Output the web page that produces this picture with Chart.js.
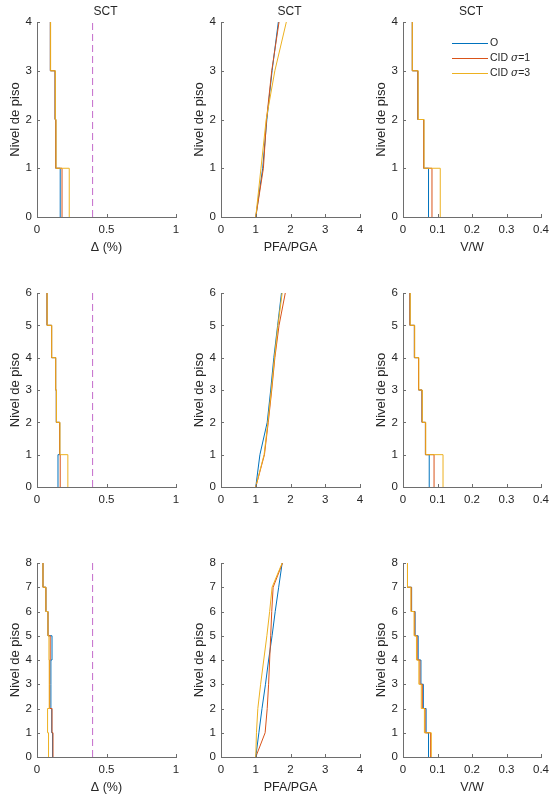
<!DOCTYPE html>
<html>
<head>
<meta charset="utf-8">
<title>SCT - perfiles de respuesta</title>
<script src="https://cdn.jsdelivr.net/npm/chart.js@4.4.1/dist/chart.umd.min.js"></script>
<style>
    html, body { margin: 0; padding: 0; background: #fff; }
    body { width: 557px; height: 800px; position: relative; overflow: hidden; }
    .panel { position: absolute; }
</style>
</head>
<body>
<script>
// Series names and colours (MATLAB defaults)
const seriesLabels = ['O', 'CID σ=1', 'CID σ=3'];
const seriesColors = ['#0072BD', '#D95319', '#EDB120'];

// Drift limit (%)
const limitDrift = 0.4;

// Tick labels per column
const driftTicks = [0, 0.5, 1];
const pfaTicks = [0, 1, 2, 3, 4];
const shearTicks = [0, 0.1, 0.2, 0.3, 0.4];

// 4 pisos - story values from story 1 (bottom) upwards
const drift4O = [0.167, 0.135, 0.130, 0.096];
const drift4C1 = [0.180, 0.135, 0.130, 0.096];
const drift4C3 = [0.232, 0.137, 0.132, 0.098];
const pfa4O = [1, 1.20, 1.32, 1.47, 1.65];
const pfa4C1 = [1, 1.22, 1.31, 1.46, 1.67];
const pfa4C3 = [1, 1.15, 1.30, 1.55, 1.88];
const shear4O = [0.074, 0.060, 0.043, 0.027];
const shear4C1 = [0.084, 0.060, 0.043, 0.027];
const shear4C3 = [0.108, 0.061, 0.044, 0.027];

// 6 pisos
const drift6O = [0.151, 0.163, 0.139, 0.134, 0.105, 0.072];
const drift6C1 = [0.167, 0.163, 0.139, 0.134, 0.105, 0.072];
const drift6C3 = [0.222, 0.165, 0.140, 0.135, 0.106, 0.073];
const pfa6O = [1, 1.12, 1.33, 1.43, 1.52, 1.63, 1.74];
const pfa6C1 = [1, 1.25, 1.36, 1.46, 1.55, 1.67, 1.85];
const pfa6C3 = [1, 1.24, 1.35, 1.45, 1.54, 1.64, 1.76];
const shear6O = [0.076, 0.065, 0.055, 0.045, 0.033, 0.020];
const shear6C1 = [0.090, 0.065, 0.055, 0.045, 0.033, 0.020];
const shear6C3 = [0.116, 0.066, 0.056, 0.046, 0.034, 0.021];

// 8 pisos
const drift8O = [0.112, 0.106, 0.100, 0.100, 0.108, 0.079, 0.064, 0.043];
const drift8C1 = [0.115, 0.108, 0.091, 0.091, 0.095, 0.079, 0.064, 0.043];
const drift8C3 = [0.083, 0.076, 0.088, 0.088, 0.086, 0.079, 0.064, 0.043];
const pfa8O = [1, 1.09, 1.18, 1.28, 1.37, 1.47, 1.56, 1.66, 1.76];
const pfa8C1 = [1, 1.27, 1.33, 1.37, 1.40, 1.43, 1.46, 1.50, 1.77];
const pfa8C3 = [1, 1.02, 1.06, 1.14, 1.23, 1.32, 1.40, 1.47, 1.76];
const shear8O = [0.074, 0.067, 0.059, 0.052, 0.044, 0.035, 0.025, 0.013];
const shear8C1 = [0.080, 0.064, 0.056, 0.049, 0.041, 0.034, 0.024, 0.013];
const shear8C3 = [0.082, 0.062, 0.053, 0.046, 0.039, 0.032, 0.023, 0.013];

const TEXT = '#262626';
const AXIS = '#6e6e6e';
Chart.defaults.font.family = '"Liberation Sans", Arial, sans-serif';
Chart.defaults.color = TEXT;

// Plot area placement (px)
const colLeft = [37, 221, 403];
const colWidth = [139, 139, 140];
const rowTop = [22, 293, 563];
const rowHeight = [195, 194, 194];
const rowBottom = [40, 24, 40];   // room under the axis: ticks (+ title)
const AXIS_W = 37;
const PAD_TOP = 22;
const PAD_RIGHT = 12;

// Story value per floor -> step line points, top to bottom
function stepPoints(values) {
    const pts = [];
    for (let i = values.length - 1; i >= 0; i--) {
        pts.push({ x: values[i], y: i + 1 });
    }
    pts.push({ x: values[0], y: 0 });
    return pts;
}

// Floor value -> profile points
function profilePoints(values) {
    return values.map((v, i) => ({ x: v, y: i }));
}

// MATLAB-style tick text: 0, 0.5, 1
function tickText(value) {
    return String(+value.toFixed(3));
}

// Inward tick marks like MATLAB
const inwardTicks = {
    id: 'inwardTicks',
    afterDraw(chart) {
        const { ctx, chartArea } = chart;
        const xs = chart.scales.x;
        const ys = chart.scales.y;
        ctx.save();
        ctx.strokeStyle = AXIS;
        ctx.lineWidth = 1;
        ctx.beginPath();
        xs.ticks.forEach(t => {
            const px = Math.round(xs.getPixelForValue(t.value)) + 0.5;
            ctx.moveTo(px, chartArea.bottom);
            ctx.lineTo(px, chartArea.bottom - 3);
        });
        ys.ticks.forEach(t => {
            const py = Math.round(ys.getPixelForValue(t.value)) + 0.5;
            ctx.moveTo(chartArea.left, py);
            ctx.lineTo(chartArea.left + 3, py);
        });
        ctx.stroke();
        ctx.restore();
    }
};

// "SCT" over the top row
const panelTitle = {
    id: 'panelTitle',
    afterDraw(chart, args, opts) {
        if (!opts.text) return;
        const { ctx, chartArea } = chart;
        ctx.save();
        ctx.fillStyle = TEXT;
        ctx.font = '12px "Liberation Sans", Arial, sans-serif';
        ctx.textAlign = 'center';
        ctx.textBaseline = 'middle';
        ctx.fillText(opts.text, (chartArea.left + chartArea.right) / 2 - 1, chartArea.top - 10);
        ctx.restore();
    }
};

// Legend inside the first shear panel, no box
const innerLegend = {
    id: 'innerLegend',
    afterDraw(chart, args, opts) {
        if (!opts.show) return;
        const { ctx, chartArea } = chart;
        const x0 = chartArea.left + 49;
        const x1 = chartArea.left + 85;
        ctx.save();
        ctx.textBaseline = 'middle';
        seriesLabels.forEach((label, i) => {
            const y = Math.round(chartArea.top + 20.5 + i * 15) + 0.5;
            ctx.strokeStyle = seriesColors[i];
            ctx.lineWidth = 1;
            ctx.beginPath();
            ctx.moveTo(x0, y);
            ctx.lineTo(x1, y);
            ctx.stroke();
            ctx.fillStyle = TEXT;
            let tx = x1 + 2;
            const parts = label.split('σ');
            parts.forEach((part, j) => {
                ctx.font = '10.5px "Liberation Sans", Arial, sans-serif';
                ctx.fillText(part, tx, y);
                tx += ctx.measureText(part).width;
                if (j < parts.length - 1) {
                    ctx.font = 'italic 10.5px "DejaVu Serif", serif';
                    ctx.fillText('σ', tx, y);
                    tx += ctx.measureText('σ').width;
                }
            });
        });
        ctx.restore();
    }
};

function makePanel(row, col, opts) {
    const div = document.createElement('div');
    div.className = 'panel';
    const w = AXIS_W + colWidth[col] + PAD_RIGHT;
    const h = PAD_TOP + rowHeight[row] + rowBottom[row];
    div.style.left = (colLeft[col] - AXIS_W) + 'px';
    div.style.top = (rowTop[row] - PAD_TOP) + 'px';
    div.style.width = w + 'px';
    div.style.height = h + 'px';
    const canvas = document.createElement('canvas');
    div.appendChild(canvas);
    document.body.appendChild(div);

    const datasets = opts.series.map((pts, i) => ({
        label: seriesLabels[i],
        data: pts,
        borderColor: seriesColors[i],
        borderWidth: 1,
        pointRadius: 0,
        showLine: true,
        stepped: opts.stepped ? 'after' : false,
        order: 2 - i
    }));
    if (opts.limit !== undefined) {
        datasets.push({
            label: 'límite',
            data: [{ x: opts.limit, y: 0 }, { x: opts.limit, y: opts.floors }],
            borderColor: '#c46ccc',
            borderWidth: 1,
            borderDash: [7, 4],
            pointRadius: 0,
            showLine: true,
            order: 5
        });
    }

    const bottomH = rowBottom[row];
    new Chart(canvas, {
        type: 'scatter',
        data: { datasets },
        options: {
            responsive: true,
            maintainAspectRatio: false,
            animation: false,
            events: [],
            layout: { padding: { top: PAD_TOP, right: PAD_RIGHT, left: 0, bottom: 0 } },
            plugins: {
                legend: { display: false },
                tooltip: { enabled: false },
                panelTitle: { text: row === 0 ? 'SCT' : '' },
                innerLegend: { show: row === 0 && col === 2 }
            },
            scales: {
                x: {
                    type: 'linear',
                    min: opts.ticks[0],
                    max: opts.ticks[opts.ticks.length - 1],
                    afterBuildTicks: s => { s.ticks = opts.ticks.map(v => ({ value: v })); },
                    afterFit: s => { s.height = bottomH; },
                    grid: { display: false, drawTicks: false },
                    border: { display: true, color: AXIS, width: 1 },
                    ticks: { padding: 6, font: { size: 11.5 }, color: TEXT, maxRotation: 0, callback: tickText },
                    title: {
                        display: row !== 1,
                        text: opts.xTitle,
                        font: { size: 12.5 },
                        color: TEXT,
                        padding: { top: 0, bottom: 2 }
                    }
                },
                y: {
                    type: 'linear',
                    min: 0,
                    max: opts.floors,
                    afterBuildTicks: s => {
                        const t = [];
                        for (let v = 0; v <= opts.floors; v++) t.push({ value: v });
                        s.ticks = t;
                    },
                    afterFit: s => { s.width = AXIS_W; },
                    grid: { display: false, drawTicks: false },
                    border: { display: true, color: AXIS, width: 1 },
                    ticks: { padding: 5, font: { size: 11.5 }, color: TEXT, callback: tickText },
                    title: {
                        display: true,
                        text: 'Nivel de piso',
                        font: { size: 13 },
                        color: TEXT,
                        padding: { top: 8, bottom: 0 }
                    }
                }
            }
        },
        plugins: [inwardTicks, panelTitle, innerLegend]
    });
}

// Build the 3x3 grid
const rows = [
    { floors: 4, drift: [drift4O, drift4C1, drift4C3], pfa: [pfa4O, pfa4C1, pfa4C3], shear: [shear4O, shear4C1, shear4C3] },
    { floors: 6, drift: [drift6O, drift6C1, drift6C3], pfa: [pfa6O, pfa6C1, pfa6C3], shear: [shear6O, shear6C1, shear6C3] },
    { floors: 8, drift: [drift8O, drift8C1, drift8C3], pfa: [pfa8O, pfa8C1, pfa8C3], shear: [shear8O, shear8C1, shear8C3] }
];

rows.forEach((r, i) => {
    makePanel(i, 0, {
        floors: r.floors,
        series: r.drift.map(stepPoints),
        stepped: true,
        limit: limitDrift,
        ticks: driftTicks,
        xTitle: 'Δ (%)'
    });
    makePanel(i, 1, {
        floors: r.floors,
        series: r.pfa.map(profilePoints),
        stepped: false,
        ticks: pfaTicks,
        xTitle: 'PFA/PGA'
    });
    makePanel(i, 2, {
        floors: r.floors,
        series: r.shear.map(stepPoints),
        stepped: true,
        ticks: shearTicks,
        xTitle: 'V/W'
    });
});
</script>
</body>
</html>
